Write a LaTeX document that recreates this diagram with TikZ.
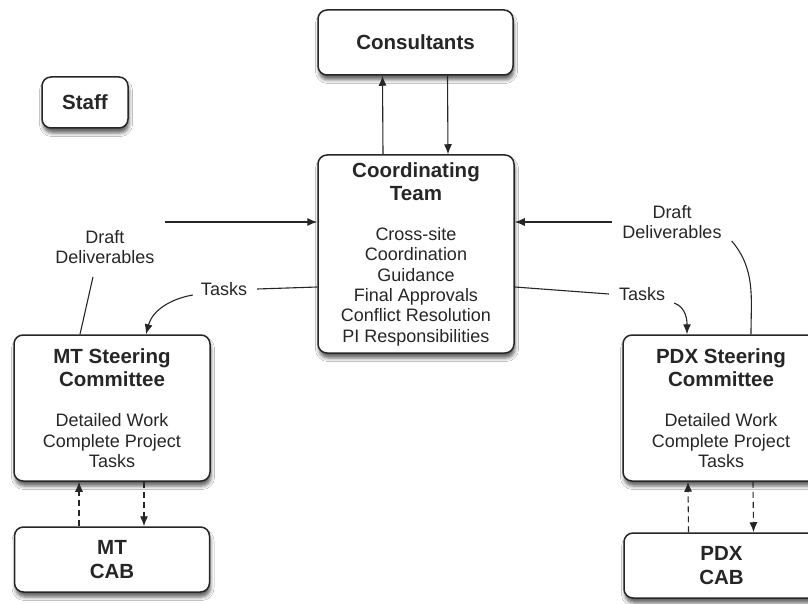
\documentclass[tikz,border=0pt]{standalone}
\usepackage{fontspec}
\setmainfont{Liberation Sans}
\usetikzlibrary{arrows.meta,shadows.blur}
\newcommand{\ttl}[1]{{\fontsize{20.5pt}{23pt}\selectfont\bfseries #1}}

\begin{document}
\begin{tikzpicture}[x=1pt,y=1pt]
\colorlet{dunkel}{black!85}
\fill[white] (0,0) rectangle (808,-604);
\useasboundingbox (0,0) rectangle (808,-604);
\tikzstyle{unit}=[draw=dunkel,fill=white,rectangle,rounded corners=9pt,line width=1.5pt,align=center,text=dunkel,font=\fontsize{18pt}{20.3pt}\selectfont,blur shadow={shadow xshift=1pt,shadow yshift=-5pt,shadow blur radius=3.5pt,shadow opacity=60}]
\tikzstyle{link}=[-{Latex[length=10pt,width=8pt]},line width=1.1pt,dunkel]
\tikzstyle{dlink}=[link,dash pattern=on 6pt off 4pt]
\tikzstyle{plain}=[line width=1.1pt,dunkel]
\tikzstyle{lbl}=[text=dunkel,align=center,inner sep=0pt,font=\fontsize{18pt}{20.3pt}\selectfont]

\node[unit,minimum width=195pt,minimum height=65pt] (cons) at (415.5,-42.5) {\ttl{Consultants}};
\node[unit,minimum width=86pt,minimum height=51pt] (staff) at (85,-102.5) {\ttl{Staff}};
\node[unit,minimum width=196pt,minimum height=198pt] (coord) at (416,-254) {\ttl{Coordinating}\\[3pt]\ttl{Team}\\[20pt]Cross-site\\Coordination\\Guidance\\Final Approvals\\Conflict Resolution\\PI Responsibilities};

\node[unit,minimum width=196pt,minimum height=146pt] (mtsc) at (112,-408) {\ttl{MT Steering}\\[3pt]\ttl{Committee}\\[20pt]Detailed Work\\Complete Project\\Tasks};
\node[unit,minimum width=195pt,minimum height=65pt] (mtcab) at (112,-559.5) {\ttl{MT}\\[4pt]\ttl{CAB}};

\node[unit,minimum width=196pt,minimum height=146pt] (pdxsc) at (721,-408) {\ttl{PDX Steering}\\[3pt]\ttl{Committee}\\[20pt]Detailed Work\\Complete Project\\Tasks};
\node[unit,minimum width=195pt,minimum height=65pt] (pdxcab) at (721.5,-565.5) {\ttl{PDX}\\[4pt]\ttl{CAB}};

% beschriftungen
\node[lbl] (ldraft) at (105,-247) {Draft\\Deliverables};
\node[lbl] (rdraft) at (672,-222) {Draft\\Deliverables};
\node[lbl] (ltask) at (224,-289) {Tasks};
\node[lbl] (rtask) at (642,-294) {Tasks};

\draw[link] ([xshift=-33pt]coord.north) -- ([xshift=-33pt]cons.south);
\draw[link] ([xshift=32pt]cons.south) -- ([xshift=32pt]coord.north);

\draw[dlink] ([xshift=-33pt]mtcab.north) -- ([xshift=-33pt]mtsc.south);
\draw[dlink] ([xshift=32pt]mtsc.south) -- ([xshift=32pt]mtcab.north);
\draw[dlink] ([xshift=-33pt]pdxcab.north) -- ([xshift=-33pt]pdxsc.south);
\draw[dlink] ([xshift=32pt]pdxsc.south) -- ([xshift=32pt]pdxcab.north);

% Tasks
\draw[plain] ([yshift=-33pt]coord.west) -- ([xshift=10pt]ltask.east);
\draw[link] ([xshift=-8pt,yshift=-6pt]ltask.west) to[out=190,in=75] ([xshift=34pt]mtsc.north);
\draw[plain] ([yshift=-33pt]coord.east) -- ([xshift=-10pt]rtask.west);
\draw[link] ([xshift=9pt,yshift=-9pt]rtask.east) to[out=-20,in=90] ([xshift=-34pt]pdxsc.north);

% Draft Deliverables
\coordinate (ldout) at (165,-222);
\coordinate (rdout) at (612,-222);
\draw[plain] ([xshift=-32pt]mtsc.north) -- ([xshift=-12pt,yshift=-13pt]ldraft.south);
\draw[link] (ldout) -- (ldout -| coord.west);
\draw[plain] ([xshift=10pt,yshift=-2pt]rdraft.south east) to[out=-50,in=90] ([xshift=30pt]pdxsc.north);
\draw[link] (rdout) -- (rdout -| coord.east);
\end{tikzpicture}
\end{document}
